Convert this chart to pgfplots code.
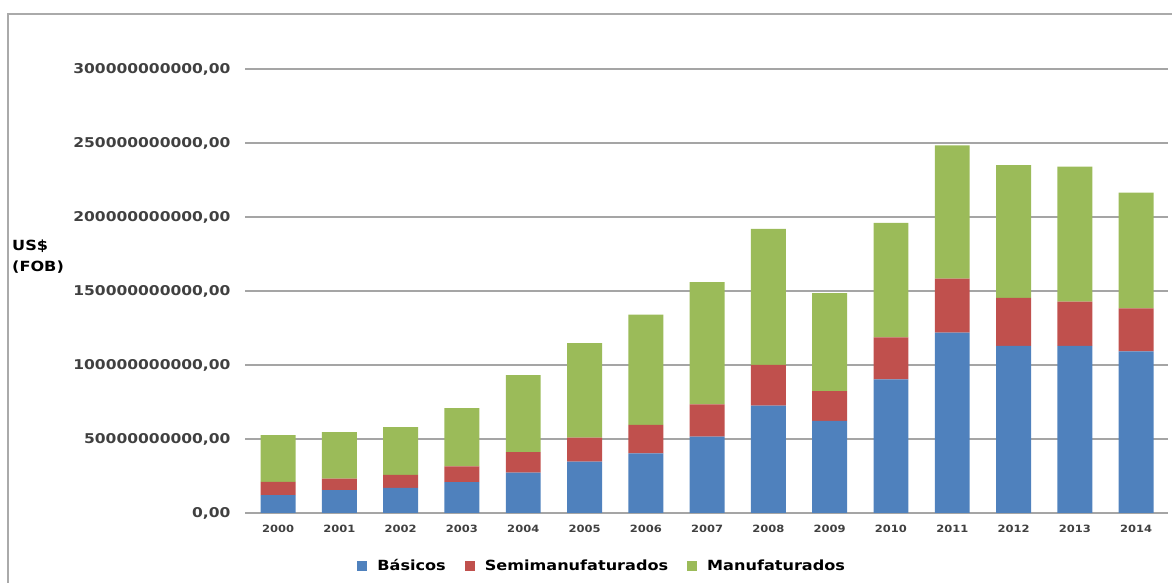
\documentclass[border=0pt]{standalone}
\usepackage{fontspec}
\setmainfont{DejaVu Sans}[FakeStretch=1.15]
\usepackage{pgfplots}
\pgfplotsset{compat=1.18}
\usepackage{pgfplotstable}
\definecolor{cB}{RGB}{79,129,189}
\definecolor{cS}{RGB}{192,80,77}
\definecolor{cM}{RGB}{155,187,89}
\definecolor{gridc}{RGB}{165,165,165}
\definecolor{tickc}{RGB}{64,64,64}
\definecolor{framec}{RGB}{170,170,170}

% values in billions of US$ (FOB)
\pgfplotstableread{
x basicos semi manuf
0  12.0  9.1 31.6
1  15.5  7.7 31.5
2  16.9  8.8 32.4
3  20.9 10.6 39.4
4  27.2 14.0 52.0
5  34.7 16.2 63.8
6  40.3 19.2 74.5
7  51.6 21.8 82.6
8  72.5 27.5 91.9
9  62.2 20.2 66.2
10 90.3 28.4 77.4
11 121.8 36.5 90.1
12 113.0 32.3 89.8
13 113.0 29.8 91.2
14 109.2 29.1 78.1
}\data

\begin{document}
\begin{tikzpicture}
\path[use as bounding box] (0pt,0pt) rectangle (1172pt,583pt);
\draw[framec, line width=1.3pt] (8pt,0pt) -- (8pt,569pt) -- (1172pt,569pt);
\node[anchor=west, align=left, font=\fontsize{14}{21}\selectfont\bfseries, inner sep=0pt] at (12pt,326pt) {US\$\\(FOB)};
\begin{axis}[
  at={(245pt,70pt)}, anchor=south west,
  scale only axis, width=923pt, height=444pt,
  ybar stacked, bar width=0.57,
  xmin=-0.54, xmax=14.52,
  ymin=0, ymax=300,
  ytick={0,50,100,150,200,250,300},
  yticklabels={{0,00},{50000000000,00},{100000000000,00},{150000000000,00},{200000000000,00},{250000000000,00},{300000000000,00}},
  xtick=data,
  xticklabels={2000,2001,2002,2003,2004,2005,2006,2007,2008,2009,2010,2011,2012,2013,2014},
  major tick length=0pt,
  axis line style={draw=none},
  ymajorgrids,
  grid style={gridc, line width=1.3pt},
  yticklabel style={font=\fontsize{13.5}{16}\selectfont\bfseries, text=tickc, xshift=-11pt},
  xticklabel style={font=\fontsize{10}{12}\selectfont\bfseries, text=tickc, yshift=-9pt},
  legend style={draw=none, at={(0.387,-0.119)}, anchor=center,
    font=\fontsize{14}{16}\selectfont\bfseries, legend columns=3,
    /tikz/every odd column/.append style={column sep=8pt},
    /tikz/every even column/.append style={column sep=17pt}},
  legend image code/.code={\fill[#1] (0pt,-5pt) rectangle (10pt,5pt);},
  every axis plot/.append style={draw=none},
]
\addplot[fill=cB] table[x=x,y=basicos] {\data};
\addplot[fill=cS] table[x=x,y=semi] {\data};
\addplot[fill=cM] table[x=x,y=manuf] {\data};
\legend{Básicos,Semimanufaturados,Manufaturados}
\end{axis}
\end{tikzpicture}
\end{document}
